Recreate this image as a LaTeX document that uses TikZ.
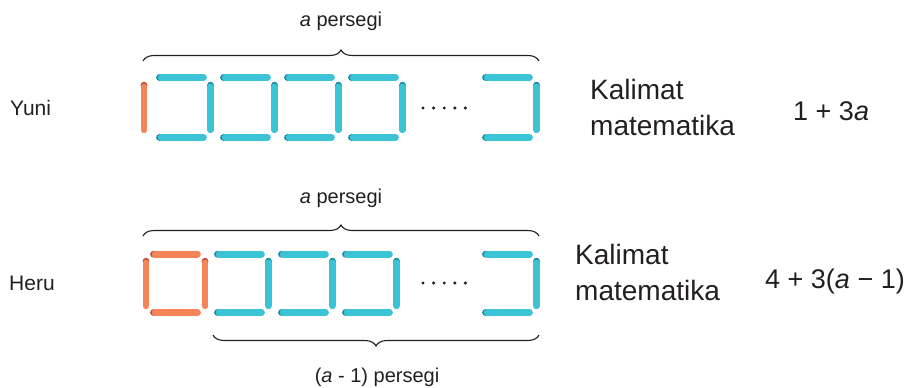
\documentclass[tikz,border=0pt]{standalone}
\usepackage{fontspec}
\setmainfont{Liberation Sans}
\usepackage{tikz}
\usetikzlibrary{decorations.pathreplacing,calc}
\definecolor{biru}{HTML}{3DC3D6}
\definecolor{birutua}{HTML}{16899D}
\definecolor{oranye}{HTML}{F58558}
\definecolor{oranyetua}{HTML}{B4503A}
\definecolor{tinta}{HTML}{231F20}
% satu batang korek: ujung awal lebih gelap
\newcommand{\batang}[3]{%
  \fill[#1tua] #2 circle (3.4pt);
  \draw[batang, draw=#1] ($#2!1.7pt!#3$) -- #3;}

\begin{document}
\begin{tikzpicture}[x=1pt,y=-1pt,
  batang/.style={line width=6.8pt, line cap=round},
  kurung/.style={decorate, decoration={brace, amplitude=11pt}, line width=1.1pt, draw=tinta},
  nama/.style={font=\fontsize{21}{25}\selectfont, text=tinta, anchor=base west, inner sep=0},
  teks/.style={font=\fontsize{20}{24}\selectfont, text=tinta, anchor=base, inner sep=0},
  kalimat/.style={font=\fontsize{28}{36}\selectfont, text=tinta, align=left, anchor=base west, inner sep=0},
  rumus/.style={font=\fontsize{27}{32}\selectfont, text=tinta, anchor=base west, inner sep=0}]
\useasboundingbox (0,0) rectangle (914,388);
% Yuni
\node[nama] (yuni) at (10,115) {Yuni};
\draw[kurung] (143,61) -- (539,61);
\node[teks] (jumlah1) at (341,27) {\textit{a} persegi};
\batang{oranye}{(144,85.2)}{(144,129.8)}
\foreach \x in {156,220,284,348,482}{
  \batang{biru}{(\x+3.5,77.5)}{(\x+47.5,77.5)}
  \batang{biru}{(\x+3.5,137.5)}{(\x+47.5,137.5)}
  \batang{biru}{(\x+54.5,85.2)}{(\x+54.5,129.8)}
}
\foreach \i in {0,...,4} \fill[tinta] (423+10.6*\i,108) circle (1.7);
\node[kalimat] (kalimat1) at (590,135) {Kalimat\\matematika};
\node[rumus] (rumus1) at (793,120) {1 + 3\textit{a}};
% Heru
\node[nama] (heru) at (9,290) {Heru};
\draw[kurung] (143,236) -- (539,236);
\node[teks] (jumlah2) at (341,203) {\textit{a} persegi};
\batang{oranye}{(146,261.2)}{(146,305.8)}
\batang{oranye}{(153.5,254.2)}{(197.5,254.2)}
\batang{oranye}{(153.5,312.5)}{(197.5,312.5)}
\batang{oranye}{(205,261.2)}{(205,305.8)}
\foreach \x in {214,278,342,482}{
  \batang{biru}{(\x+3.5,254.2)}{(\x+47.5,254.2)}
  \batang{biru}{(\x+3.5,312.5)}{(\x+47.5,312.5)}
  \batang{biru}{(\x+54.5,261.2)}{(\x+54.5,305.8)}
}
\foreach \i in {0,...,4} \fill[tinta] (423+10.6*\i,283) circle (1.7);
\draw[kurung] (539,335) -- (213,335);
\node[teks] (jumlah3) at (377,382) {(\textit{a} - 1) persegi};
\node[kalimat] (kalimat2) at (575,300) {Kalimat\\matematika};
\node[rumus] (rumus2) at (765,288) {4 + 3(\textit{a} − 1)};
\end{tikzpicture}
\end{document}
